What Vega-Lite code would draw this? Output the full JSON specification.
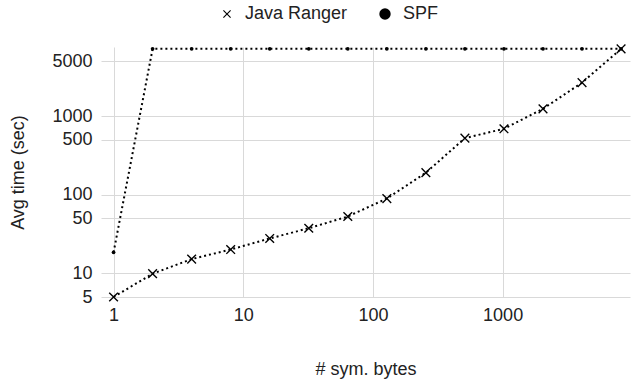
{
  "$schema": "https://vega.github.io/schema/vega-lite/v6.json",
  "autosize": "none",
  "width": 529,
  "height": 250,
  "padding": {"left": 101, "top": 47, "right": 1, "bottom": 83},
  "background": "white",
  "config": {
    "font": "Liberation Sans",
    "view": {"stroke": null},
    "axis": {
      "domain": false,
      "ticks": false,
      "gridColor": "#d9d9d9",
      "gridWidth": 1,
      "labelFont": "Liberation Sans",
      "labelFontSize": 18,
      "labelColor": "#222222",
      "titleFont": "Liberation Sans",
      "titleFontSize": 18,
      "titleFontWeight": "normal",
      "titleColor": "#222222"
    }
  },
  "data": {
    "values": [
      {"bytes": 1, "time": 5, "tool": "Java Ranger"},
      {"bytes": 2, "time": 9.9, "tool": "Java Ranger"},
      {"bytes": 4, "time": 15.2, "tool": "Java Ranger"},
      {"bytes": 8, "time": 20.1, "tool": "Java Ranger"},
      {"bytes": 16, "time": 27.8, "tool": "Java Ranger"},
      {"bytes": 32, "time": 37.5, "tool": "Java Ranger"},
      {"bytes": 64, "time": 52.9, "tool": "Java Ranger"},
      {"bytes": 128, "time": 89.5, "tool": "Java Ranger"},
      {"bytes": 256, "time": 191, "tool": "Java Ranger"},
      {"bytes": 512, "time": 526, "tool": "Java Ranger"},
      {"bytes": 1024, "time": 692, "tool": "Java Ranger"},
      {"bytes": 2048, "time": 1241, "tool": "Java Ranger"},
      {"bytes": 4096, "time": 2676, "tool": "Java Ranger"},
      {"bytes": 8192, "time": 7200, "tool": "Java Ranger"},
      {"bytes": 1, "time": 18.5, "tool": "SPF"},
      {"bytes": 2, "time": 7200, "tool": "SPF"},
      {"bytes": 4, "time": 7200, "tool": "SPF"},
      {"bytes": 8, "time": 7200, "tool": "SPF"},
      {"bytes": 16, "time": 7200, "tool": "SPF"},
      {"bytes": 32, "time": 7200, "tool": "SPF"},
      {"bytes": 64, "time": 7200, "tool": "SPF"},
      {"bytes": 128, "time": 7200, "tool": "SPF"},
      {"bytes": 256, "time": 7200, "tool": "SPF"},
      {"bytes": 512, "time": 7200, "tool": "SPF"},
      {"bytes": 1024, "time": 7200, "tool": "SPF"},
      {"bytes": 2048, "time": 7200, "tool": "SPF"},
      {"bytes": 4096, "time": 7200, "tool": "SPF"},
      {"bytes": 8192, "time": 7200, "tool": "SPF"}
    ]
  },
  "encoding": {
    "x": {
      "field": "bytes",
      "type": "quantitative",
      "scale": {"type": "log", "domain": [0.8, 9600], "nice": false, "zero": false},
      "axis": {"values": [1, 10, 100, 1000], "format": "d", "labelPadding": 9, "titlePadding": 36, "title": "# sym. bytes", "labelFlush": false}
    },
    "y": {
      "field": "time",
      "type": "quantitative",
      "scale": {"type": "log", "domain": [5, 7600], "nice": false, "zero": false},
      "axis": {"values": [5, 10, 50, 100, 500, 1000, 5000], "format": "d", "labelPadding": 9, "titlePadding": 24, "title": "Avg time (sec)", "labelFlush": false}
    }
  },
  "layer": [
    {
      "mark": {"type": "line", "color": "black", "strokeWidth": 2, "strokeDash": [2, 3], "strokeCap": "butt"},
      "encoding": {"detail": {"field": "tool"}}
    },
    {
      "transform": [{"filter": "datum.tool === 'Java Ranger'"}],
      "mark": {"type": "point", "filled": true, "color": "black", "size": 190, "opacity": 1},
      "encoding": {
        "shape": {
          "field": "tool",
          "type": "nominal",
          "scale": {"domain": ["Java Ranger", "SPF"], "range": ["M-0.7,-0.56L-0.56,-0.7L0,-0.14L0.56,-0.7L0.7,-0.56L0.14,0L0.7,0.56L0.56,0.7L0,0.14L-0.56,0.7L-0.7,0.56L-0.14,0Z", "circle"]},
          "legend": {
            "title": null,
            "orient": "none",
            "direction": "horizontal",
            "legendX": 117,
            "legendY": -42,
            "symbolSize": 130,
            "symbolFillColor": "black",
            "symbolStrokeWidth": 0,
            "labelFontSize": 18,
            "labelFont": "Liberation Sans",
            "labelColor": "#222222",
            "labelOffset": 9,
            "columnPadding": 28
          }
        }
      }
    },
    {
      "transform": [{"filter": "datum.tool === 'SPF'"}],
      "mark": {"type": "point", "filled": true, "color": "black", "size": 14, "opacity": 1},
      "encoding": {
        "shape": {"field": "tool", "type": "nominal"}
      }
    }
  ]
}
